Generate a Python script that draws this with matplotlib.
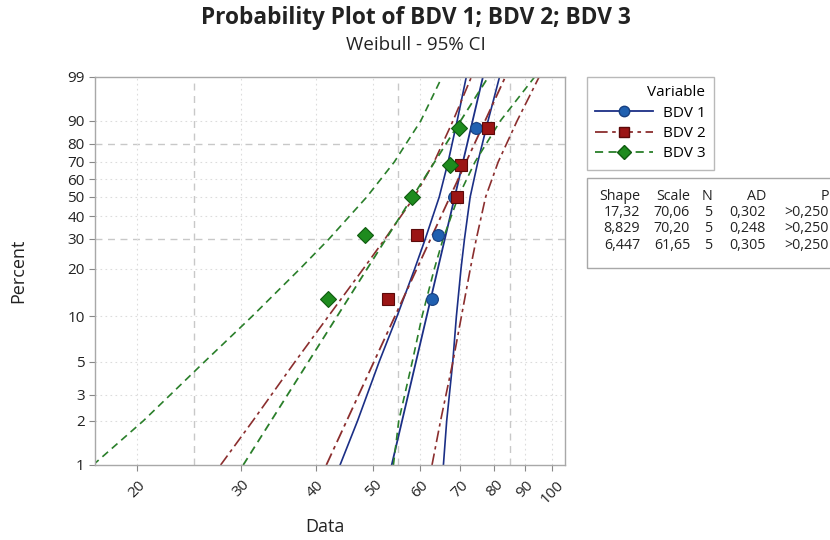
import numpy as np
import matplotlib
matplotlib.use("Agg")
import matplotlib.pyplot as plt
from matplotlib.lines import Line2D
from matplotlib.patches import Rectangle

plt.rcParams['font.family'] = ['Open Sans', 'DejaVu Sans']

# ---------------- data ----------------
series_names = ["BDV 1", "BDV 2", "BDV 3"]
shape = [17.32, 8.829, 6.447]
scale = [70.06, 70.20, 61.65]
shape_lbl = ["17,32", "8,829", "6,447"]
scale_lbl = ["70,06", "70,20", "61,65"]
n_lbl = ["5", "5", "5"]
ad_lbl = ["0,302", "0,248", "0,305"]
p_lbl = [">0,250", ">0,250", ">0,250"]

point_pct = [12.96, 31.48, 50.0, 68.52, 87.04]
bdv1 = [62.7, 64.2, 68.5, 70.3, 74.4]
bdv2 = [53.0, 59.3, 69.2, 70.4, 78.0]
bdv3 = [42.0, 48.4, 58.2, 67.3, 69.8]

ci_pct = [1, 2, 5, 10, 20, 30, 50, 70, 90, 99]
bdv1_lo = [43.97, 47.06, 51.17, 54.85, 58.74, 61.19, 64.60, 66.86, 69.24, 71.74]
bdv1_hi = [65.65, 66.49, 68.08, 69.04, 70.29, 71.24, 72.83, 75.02, 78.05, 81.61]
bdv2_lo = [27.67, 31.36, 36.92, 42.03, 48.14, 52.32, 58.66, 63.32, 68.13, 73.17]
bdv2_hi = [62.81, 64.93, 68.11, 70.41, 72.87, 74.58, 77.33, 81.19, 87.36, 95.15]
bdv3_lo = [16.87, 20.51, 25.99, 31.28, 37.66, 42.12, 48.78, 54.27, 60.13, 65.29]
bdv3_hi = [54.08, 55.21, 58.18, 60.44, 63.39, 65.56, 69.53, 74.21, 81.87, 93.50]

fit_pct = [1, 99]

x_ticks = [20, 30, 40, 50, 60, 70, 80, 90, 100]
y_ticks = [1, 2, 3, 5, 10, 20, 30, 40, 50, 60, 70, 80, 90, 99]
ref_x = [25, 55, 85]
ref_y = [30, 80]

# ---------------- styles ----------------
line_col = ['#1b2f86', '#8b2e2e', '#2a7f2a']
mk_face = ['#2060b0', '#9b1515', '#1e8b1e']
mk_edge = ['#173f80', '#5c0a0a', '#0f5a0f']
markers = ['o', 's', 'D']
dashes = [None, (7, 2.5, 2, 2.5), (4.5, 3)]


def fwd(p):
    p = np.clip(np.asarray(p, dtype=float) / 100.0, 1e-9, 1 - 1e-9)
    return np.log(-np.log(1 - p))


def inv(y):
    return 100.0 * (1 - np.exp(-np.exp(np.asarray(y, dtype=float))))


fig = plt.figure(figsize=(8.3, 5.4), dpi=100)
W, H = 830, 540
ax = fig.add_axes([95 / W, 1 - 465 / H, (565 - 95) / W, (465 - 77) / H])
ax.set_xscale('log')
ax.set_yscale('function', functions=(fwd, inv))
ax.set_xlim(17.0, 105.2)
ax.set_ylim(1, 99)

# grid
for yt in y_ticks:
    if yt in (1, 99):
        continue
    if yt in ref_y:
        ax.axhline(yt, color='#c8c8c8', lw=1.0, ls=(0, (5, 4)), zorder=0)
    else:
        ax.axhline(yt, color='#dcdcdc', lw=0.8, ls=(0, (1.5, 3)), zorder=0)
for xt in x_ticks:
    ax.axvline(xt, color='#dcdcdc', lw=0.8, ls=(0, (1.5, 3)), zorder=0)
for xr in ref_x:
    ax.axvline(xr, color='#c8c8c8', lw=1.0, ls=(0, (5, 4)), zorder=0)

points = [bdv1, bdv2, bdv3]
los = [bdv1_lo, bdv2_lo, bdv3_lo]
his = [bdv1_hi, bdv2_hi, bdv3_hi]

handles = []
for i in range(3):
    ls = '-' if dashes[i] is None else (0, dashes[i])
    fit_x = [scale[i] * (-np.log(1 - p / 100.0)) ** (1.0 / shape[i]) for p in fit_pct]
    ax.plot(fit_x, fit_pct, color=line_col[i], lw=1.3, zorder=2, linestyle=ls)
    ax.plot(los[i], ci_pct, color=line_col[i], lw=1.2, zorder=2, linestyle=ls)
    ax.plot(his[i], ci_pct, color=line_col[i], lw=1.2, zorder=2, linestyle=ls)

for i in range(3):
    ax.plot(points[i], point_pct, linestyle='none', marker=markers[i],
            ms=8.5 if markers[i] != 'D' else 8,
            mfc=mk_face[i], mec=mk_edge[i], mew=0.8, zorder=3 + i)
    ls = '-' if dashes[i] is None else (0, dashes[i])
    handles.append(Line2D([], [], color=line_col[i], lw=1.3, linestyle=ls,
                          marker=markers[i], ms=7.5 if markers[i] != 'D' else 7,
                          mfc=mk_face[i], mec=mk_edge[i]))

ax.set_xticks(x_ticks)
ax.set_xticklabels([str(v) for v in x_ticks], rotation=45, ha='center', fontsize=11)
ax.xaxis.set_minor_locator(matplotlib.ticker.NullLocator())
ax.set_yticks(y_ticks)
ax.set_yticklabels([str(v) for v in y_ticks], fontsize=11)
ax.yaxis.set_minor_locator(matplotlib.ticker.NullLocator())
ax.tick_params(axis='both', colors='#888888', labelcolor='#222222', length=4, width=0.8)
ax.tick_params(axis='x', pad=5)
for s in ax.spines.values():
    s.set_color('#a8a8a8')
    s.set_linewidth(1.0)

ax.set_ylabel('Percent', fontsize=13, color='#222222', va='center')
ax.yaxis.set_label_coords((18 - 95) / 470, 0.5)
ax.set_xlabel('Data', fontsize=13, color='#222222', va='center')
ax.xaxis.set_label_coords((325 - 95) / 470, -(527 - 465) / 388)

fig.text(416 / W, 1 - 18 / H, 'Probability Plot of BDV 1; BDV 2; BDV 3',
         ha='center', va='center', fontsize=16.3, fontweight='bold', color='#222222')
fig.text(416 / W, 1 - 45 / H, 'Weibull - 95% CI', ha='center', va='center',
         fontsize=13.5, color='#222222')

leg = ax.legend(handles, series_names, title='Variable', loc='upper left',
                bbox_to_anchor=(587 / W, 1 - 77 / H), bbox_transform=fig.transFigure,
                borderaxespad=0, frameon=True, fancybox=False, edgecolor='#a8a8a8',
                fontsize=11, title_fontsize=11, handlelength=3.8, handletextpad=0.6,
                borderpad=0.55, labelspacing=0.35, alignment='right')
leg.get_frame().set_linewidth(1.0)

# statistics table
fig.add_artist(Rectangle((587 / W, 1 - 268 / H), (835 - 587) / W, (268 - 178) / H,
                         transform=fig.transFigure, fill=False, edgecolor='#a8a8a8', lw=1.0))
col_right = [640, 690, 712, 766, 829]
headers = ['Shape', 'Scale', 'N', 'AD', 'P']
row_y = [196, 213, 229, 246]
for c, h in zip(col_right, headers):
    fig.text(c / W, 1 - row_y[0] / H, h, ha='right', va='center', fontsize=10.3, color='#222222')
for r in range(3):
    vals = [shape_lbl[r], scale_lbl[r], n_lbl[r], ad_lbl[r], p_lbl[r]]
    for c, v in zip(col_right, vals):
        fig.text(c / W, 1 - row_y[r + 1] / H, v, ha='right', va='center', fontsize=10.3,
                 color='#222222')

fig.savefig('out.png', dpi=100)
